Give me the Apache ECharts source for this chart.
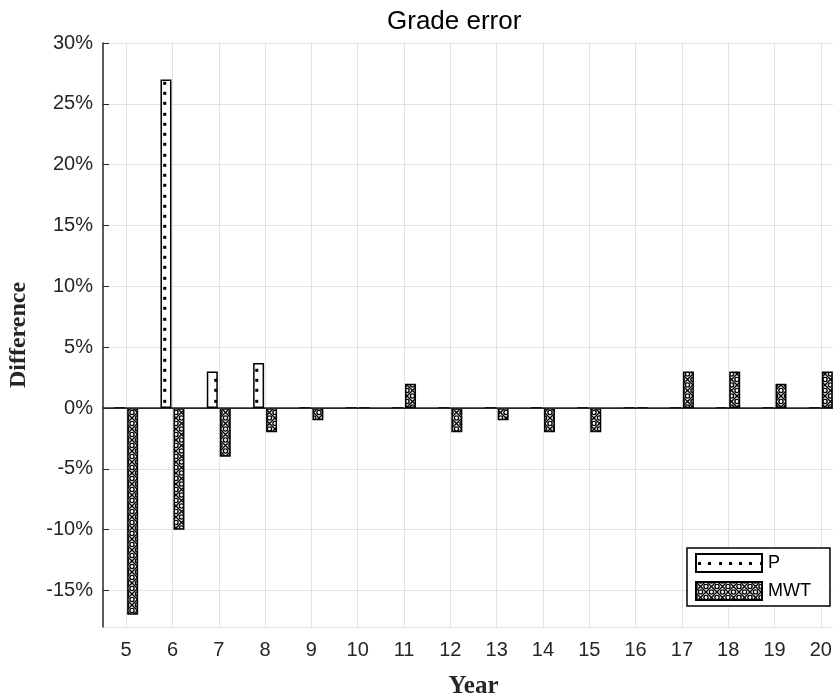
<!DOCTYPE html>
<html><head><meta charset="utf-8">
<script src="https://cdn.jsdelivr.net/npm/echarts@6/dist/echarts.min.js"></script>
<style>html,body{margin:0;padding:0;overflow:hidden;background:#fff}#c{width:845px;height:700px}</style>
</head><body><div id="c"></div>
<script>
// ---- data ----
const years = ['5','6','7','8','9','10','11','12','13','14','15','16','17','18','19','20'];
const pValues = [0, 27, 3, 3.7, 0, 0, 0, 0, 0, 0, 0, 0, 0, 0, 0, 0];
const mwtValues = [-17, -10, -4, -2, -1, 0, 2, -2, -1, -2, -2, 0, 3, 3, 2, 3];
const yMin = -18;
const yMax = 30;

// ---- fill patterns ----
function dotTile() {
  const c = document.createElement('canvas'); c.width = 41; c.height = 41;
  const g = c.getContext('2d');
  g.fillStyle = '#fff'; g.fillRect(0, 0, 41, 41);
  g.fillStyle = '#000';
  const pos = [0, 10, 20, 31];
  pos.forEach(x => pos.forEach(y => g.fillRect(x, y, 3, 3)));
  return c;
}
function hatchTile() {
  const s = 11;
  const c = document.createElement('canvas'); c.width = s; c.height = s;
  const g = c.getContext('2d');
  g.fillStyle = '#fff'; g.fillRect(0, 0, s, s);
  g.strokeStyle = '#000'; g.lineWidth = 1.4;
  g.beginPath(); g.moveTo(0, 0); g.lineTo(s, s); g.moveTo(s, 0); g.lineTo(0, s); g.stroke();
  [[s / 2, 0], [s / 2, s], [0, s / 2], [s, s / 2]].forEach(p => {
    g.beginPath(); g.arc(p[0], p[1], 2.1, 0, Math.PI * 2); g.stroke();
  });
  return c;
}
function iconP() {
  const c = document.createElement('canvas'); c.width = 68; c.height = 20;
  const g = c.getContext('2d');
  g.fillStyle = '#fff'; g.fillRect(0, 0, 68, 20);
  g.fillStyle = '#000';
  for (let i = 0; i < 7; i++) g.fillRect(Math.round(3 + i * 10.25), 9, 3, 3);
  g.strokeStyle = '#000'; g.lineWidth = 2; g.strokeRect(1, 1, 66, 18);
  return c.toDataURL();
}
function iconM() {
  const c = document.createElement('canvas'); c.width = 68; c.height = 20;
  const g = c.getContext('2d');
  g.fillStyle = g.createPattern(hatchTile(), 'repeat'); g.fillRect(0, 0, 68, 20);
  g.strokeStyle = '#000'; g.lineWidth = 2; g.strokeRect(1, 1, 66, 18);
  return c.toDataURL();
}

const axisColor = '#262626';
const gridColor = '#e2e2e2';
const sans = 'Liberation Sans';
const serif = 'Liberation Serif';

const chart = echarts.init(document.getElementById('c'), null, {renderer: 'canvas'});
chart.setOption({
  animation: false,
  backgroundColor: '#fff',
  title: {
    text: 'Grade error', left: 387, top: 9, padding: 0,
    textStyle: {fontFamily: sans, fontSize: 26, fontWeight: 'normal', color: '#000'}
  },
  legend: {
    orient: 'vertical', left: 687, top: 548,
    itemWidth: 68, itemHeight: 20, itemGap: 8,
    padding: [5, 19, 5, 8],
    borderColor: '#000', borderWidth: 1.5, backgroundColor: '#fff',
    textStyle: {fontFamily: sans, fontSize: 18, color: '#000'},
    selectedMode: false,
    data: [{name: 'P', icon: 'image://' + iconP()}, {name: 'MWT', icon: 'image://' + iconM()}]
  },
  grid: {left: 103, right: 1, top: 43, bottom: 73, containLabel: false, outerBoundsMode: 'none'},
  xAxis: {
    type: 'category', data: years,
    name: 'Year', nameLocation: 'middle', nameGap: 47,
    nameTextStyle: {fontFamily: serif, fontWeight: 'bold', fontSize: 25, color: axisColor},
    axisLine: {lineStyle: {color: axisColor, width: 1.5}},
    axisTick: {inside: true, alignWithLabel: true, length: 5, lineStyle: {color: axisColor}},
    axisLabel: {fontFamily: sans, fontSize: 20, color: axisColor, margin: 13, interval: 0},
    splitLine: {show: true, alignWithLabel: true, lineStyle: {color: gridColor}}
  },
  yAxis: {
    type: 'value', min: yMin, max: yMax, splitNumber: 10, minInterval: 5, maxInterval: 5,
    name: 'Difference', nameLocation: 'middle', nameGap: 72,
    nameTextStyle: {fontFamily: serif, fontWeight: 'bold', fontSize: 24, color: axisColor},
    axisLine: {show: true, lineStyle: {color: axisColor, width: 1.5}},
    axisTick: {show: true, inside: true, length: 6, lineStyle: {color: axisColor}},
    axisLabel: {fontFamily: sans, fontSize: 20, color: axisColor, margin: 10, formatter: '{value}%', showMinLabel: false},
    splitLine: {show: true, lineStyle: {color: gridColor}}
  },
  series: [
    {
      name: 'P', type: 'bar', data: pValues, barWidth: 11, barGap: '18%', silent: true,
      itemStyle: {color: {image: dotTile(), repeat: 'repeat', x: 40.2, y: 40.8}, borderColor: '#000', borderWidth: 1.5},
      markLine: {
        silent: true, symbol: 'none', label: {show: false},
        lineStyle: {color: axisColor, width: 1, type: 'solid'},
        data: [{yAxis: 0}]
      }
    },
    {
      name: 'MWT', type: 'bar', data: mwtValues, barWidth: 11, barGap: '18%', silent: true,
      itemStyle: {color: {image: hatchTile(), repeat: 'repeat'}, borderColor: '#000', borderWidth: 1.5}
    }
  ]
});
</script>
</body></html>
